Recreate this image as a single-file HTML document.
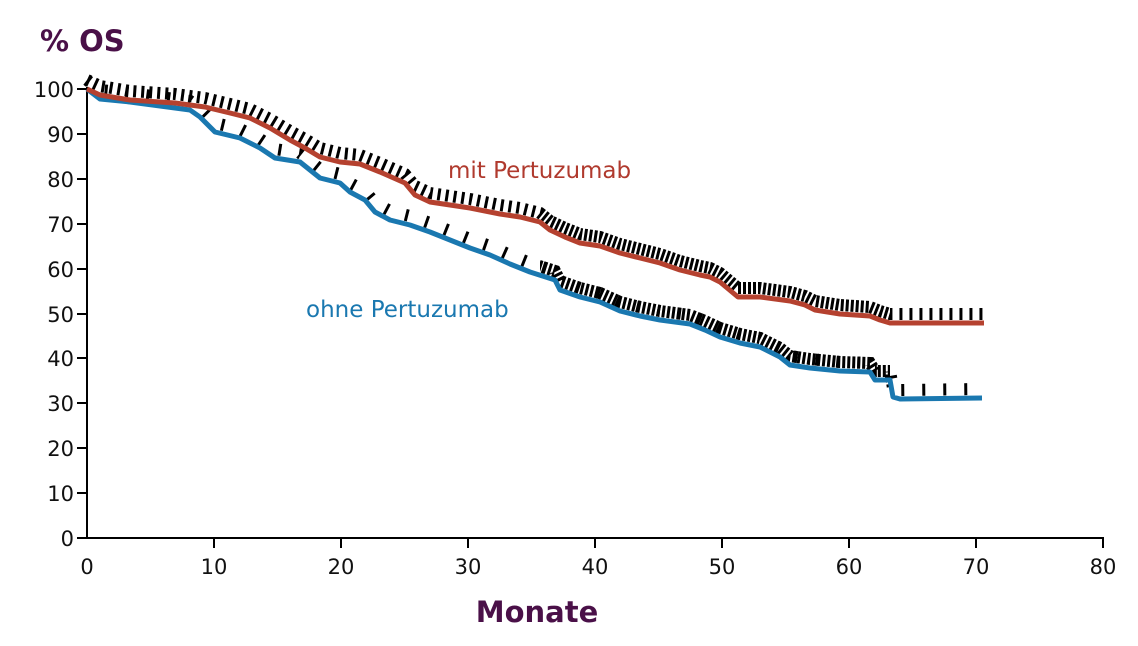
<!DOCTYPE html>
<html><head><style>body{margin:0;background:#fff}svg{display:block}</style></head><body>
<svg width="1138" height="646" viewBox="0 0 1138 646" xmlns="http://www.w3.org/2000/svg" font-family="'DejaVu Sans','Liberation Sans',sans-serif">
<text x="40" y="51" font-size="29" font-weight="bold" fill="#4a1048">% OS</text>
<text x="537" y="622" font-size="29" font-weight="bold" fill="#4a1048" text-anchor="middle">Monate</text>
<g stroke="#000" stroke-width="2">
<line x1="87" y1="87" x2="87" y2="539"/>
<line x1="86" y1="538" x2="1104" y2="538"/>
</g>
<g stroke="#000" stroke-width="2">
<line x1="77" y1="89" x2="87" y2="89"/><line x1="77" y1="134" x2="87" y2="134"/><line x1="77" y1="179" x2="87" y2="179"/><line x1="77" y1="224" x2="87" y2="224"/><line x1="77" y1="269" x2="87" y2="269"/><line x1="77" y1="314" x2="87" y2="314"/><line x1="77" y1="358" x2="87" y2="358"/><line x1="77" y1="403" x2="87" y2="403"/><line x1="77" y1="448" x2="87" y2="448"/><line x1="77" y1="493" x2="87" y2="493"/><line x1="77" y1="538" x2="87" y2="538"/>
<line x1="214" y1="538" x2="214" y2="548"/><line x1="341" y1="538" x2="341" y2="548"/><line x1="468" y1="538" x2="468" y2="548"/><line x1="595" y1="538" x2="595" y2="548"/><line x1="722" y1="538" x2="722" y2="548"/><line x1="849" y1="538" x2="849" y2="548"/><line x1="976" y1="538" x2="976" y2="548"/><line x1="1103" y1="538" x2="1103" y2="548"/>
</g>
<g font-size="21" fill="#111" text-anchor="end">
<text x="74" y="97">100</text><text x="74" y="142">90</text><text x="74" y="187">80</text><text x="74" y="232">70</text><text x="74" y="277">60</text><text x="74" y="322">50</text><text x="74" y="366">40</text><text x="74" y="411">30</text><text x="74" y="456">20</text><text x="74" y="501">10</text><text x="74" y="546">0</text>
</g>
<g font-size="21" fill="#111" text-anchor="middle">
<text x="87" y="574">0</text><text x="214" y="574">10</text><text x="341" y="574">20</text><text x="468" y="574">30</text><text x="595" y="574">40</text><text x="722" y="574">50</text><text x="849" y="574">60</text><text x="976" y="574">70</text><text x="1103" y="574">80</text>
</g>
<text x="448" y="178" font-size="23" fill="#b03a2e">mit Pertuzumab</text>
<text x="306" y="317" font-size="23" fill="#1a78b0">ohne Pertuzumab</text>
<defs>
<path id="red" d="M87,89 L100,95 130,100 175,103 205,107 230,113 250,118 270,128 290,140 305,148 320,157 340,162 360,164 380,172 405,183 415,195 430,202 450,205 470,208 500,214 520,217 540,222 550,230 565,237 580,243 600,246 620,253 640,258 660,263 680,270 700,275 710,277 720,282 738,297 760,297 790,301 805,305 815,310 840,314 870,316 880,320 890,323 984,323"/>
<path id="blue" d="M87,89 L100,99 130,102 160,106 190,110 200,117 215,132 240,138 260,148 275,158 300,162 320,178 340,183 350,192 365,200 375,212 390,220 410,225 430,232 450,240 470,248 490,255 510,264 530,272 555,280 560,290 580,297 600,302 620,311 640,316 660,320 690,324 705,330 720,337 740,343 760,347 780,357 790,365 810,368 840,371 870,372 875,380 890,380 893,397 900,399 982,398"/>
<clipPath id="c1"><rect x="540" y="0" width="350" height="646"/></clipPath>
<clipPath id="c2"><rect x="0" y="0" width="540" height="646"/></clipPath>
</defs>
<g fill="none" stroke="#000" stroke-width="12" transform="translate(0,-9)" clip-path="url(#c2)">
<use href="#red" stroke-dasharray="3 5"/>
</g>
<g fill="none" stroke="#000" stroke-width="12" transform="translate(0,-9)">
<use href="#blue" stroke-dasharray="3 18"/>
</g>
<g fill="none" stroke="#000" stroke-width="12" transform="translate(0,-9)" clip-path="url(#c1)">
<use href="#red" stroke-dasharray="3 2"/>
<use href="#blue" stroke-dasharray="3 2"/>
</g>
<g fill="none" stroke="#000" stroke-width="12" transform="translate(0,-9)">
<clipPath id="c3"><rect x="890" y="0" width="100" height="646"/></clipPath>
<use href="#red" stroke-dasharray="3 7" clip-path="url(#c3)"/>
</g>
<use href="#blue" fill="none" stroke="#1a78b0" stroke-width="5" stroke-linejoin="round"/>
<use href="#red" fill="none" stroke="#b5412f" stroke-width="5" stroke-linejoin="round"/>
</svg>
</body></html>
